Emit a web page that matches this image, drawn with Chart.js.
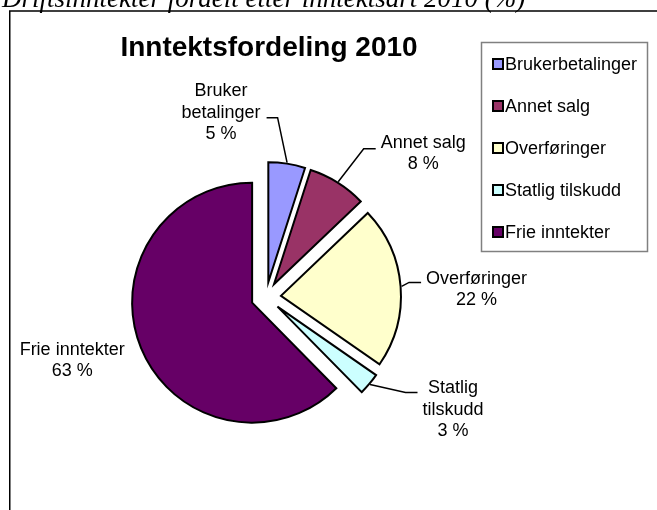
<!DOCTYPE html>
<html lang="no">
<head>
    <meta charset="UTF-8">
    <title>Inntektsfordeling 2010</title>
    <script src="https://cdn.jsdelivr.net/npm/chart.js"></script>
    <style>
        body {
            margin: 0;
            background: #ffffff;
        }

        .wrap {
            position: relative;
            width: 657px;
            height: 510px;
        }
    </style>
</head>
<body>
    <div class="wrap">
        <canvas id="pie" width="657" height="510"></canvas>
    </div>

    <script>
        // data
        const categories = ["Brukerbetalinger", "Annet salg", "Overføringer", "Statlig tilskudd", "Frie inntekter"];
        const shares = [5, 8, 22, 3, 63];
        const labelLines = [["Bruker", "betalinger"], ["Annet salg"], ["Overføringer"], ["Statlig", "tilskudd"], ["Frie inntekter"]];
        const sliceColors = ["#9999FF", "#993366", "#FFFFCC", "#CCFFFF", "#660066"];

        const caption = "Driftsinntekter fordelt etter inntektsart 2010 (%)";
        const chartTitle = "Inntektsfordeling 2010";

        const sansFont = "'Liberation Sans', Arial, sans-serif";
        const serifFont = "'Liberation Serif', 'Times New Roman', serif";

        // where each data label sits relative to the slice edge, and where its leader meets it
        const labelPlacement = [
            { dx: -66, dy: -50, leadY: 5, side: "left" },
            { dx: 85, dy: -28, leadY: -5, side: "right" },
            { dx: 75, dy: 3, leadY: -7, side: "right" },
            { dx: 83, dy: 25, leadY: -17, side: "right" },
            { dx: -68, dy: 12, leadY: null, side: "left" }
        ];

        // draw every slice pushed out along its middle angle
        const explodePlugin = {
            id: "explode",
            beforeDatasetDraw(chart, args, opts) {
                const ctx = chart.ctx;
                args.meta.data.forEach((arc) => {
                    const mid = (arc.startAngle + arc.endAngle) / 2;
                    ctx.save();
                    ctx.translate(Math.cos(mid) * opts.distance, Math.sin(mid) * opts.distance);
                    arc.draw(ctx);
                    ctx.restore();
                });
                return false;
            }
        };

        // frame, caption, title, legend box and the data labels
        const decorPlugin = {
            id: "decor",
            afterDraw(chart, args, opts) {
                const ctx = chart.ctx;
                const dist = chart.options.plugins.explode.distance;
                const meta = chart.getDatasetMeta(0);
                const ds = chart.data.datasets[0];

                ctx.save();

                // outer frame (only top and left show)
                ctx.strokeStyle = "#000";
                ctx.lineWidth = 1.5;
                ctx.beginPath();
                ctx.moveTo(9.75, 510);
                ctx.lineTo(9.75, 11);
                ctx.lineTo(657, 11);
                ctx.stroke();

                // caption above the frame
                ctx.fillStyle = "#000";
                ctx.font = "italic 27px " + serifFont;
                ctx.textAlign = "left";
                ctx.textBaseline = "alphabetic";
                ctx.fillText(caption, 2, 7);

                // chart title
                ctx.font = "bold 28px " + sansFont;
                ctx.textAlign = "center";
                ctx.fillText(chartTitle, 269, 56);

                // legend
                ctx.strokeStyle = "#808080";
                ctx.lineWidth = 1.5;
                ctx.strokeRect(481.5, 42.5, 166, 209);
                ctx.font = "18px " + sansFont;
                ctx.textAlign = "left";
                ctx.textBaseline = "middle";
                chart.data.labels.forEach((name, i) => {
                    const y = 64 + i * 42;
                    ctx.fillStyle = ds.backgroundColor[i];
                    ctx.fillRect(493, y - 5, 10, 10);
                    ctx.strokeStyle = "#000";
                    ctx.lineWidth = 2;
                    ctx.strokeRect(493, y - 5, 10, 10);
                    ctx.fillStyle = "#000";
                    ctx.fillText(name, 505, y + 1);
                });

                // data labels with leader lines
                const lineH = 21.5;
                meta.data.forEach((arc, i) => {
                    const mid = (arc.startAngle + arc.endAngle) / 2;
                    const r = arc.outerRadius + 1;
                    const ax = arc.x + Math.cos(mid) * (dist + r);
                    const ay = arc.y + Math.sin(mid) * (dist + r);
                    const p = labelPlacement[i];
                    const lines = labelLines[i].concat([ds.data[i] + " %"]);
                    const cx = ax + p.dx;
                    const cy = ay + p.dy;
                    const top = cy - (lines.length - 1) * lineH / 2;

                    ctx.fillStyle = "#000";
                    ctx.textAlign = "center";
                    ctx.textBaseline = "middle";
                    let widest = 0;
                    lines.forEach((t, k) => {
                        ctx.fillText(t, cx, top + k * lineH);
                        widest = Math.max(widest, ctx.measureText(t).width);
                    });

                    if (p.leadY !== null) {
                        const ly = cy + p.leadY;
                        const sx = p.side === "left" ? cx + widest / 2 + 6 : cx - widest / 2 - 5;
                        const ex = p.side === "left" ? sx + 11 : sx - 12;
                        ctx.strokeStyle = "#000";
                        ctx.lineWidth = 1.5;
                        ctx.beginPath();
                        ctx.moveTo(sx, ly);
                        ctx.lineTo(ex, ly);
                        ctx.lineTo(ax, ay);
                        ctx.stroke();
                    }
                });

                ctx.restore();
            }
        };

        new Chart(document.getElementById("pie"), {
            type: "pie",
            data: {
                labels: categories,
                datasets: [{
                    data: shares,
                    backgroundColor: sliceColors,
                    borderColor: "#000000",
                    borderWidth: 2,
                    borderJoinStyle: "miter"
                }]
            },
            options: {
                responsive: false,
                animation: false,
                radius: 120,
                layout: {
                    padding: { left: 116, right: 241, top: 147, bottom: 63 }
                },
                plugins: {
                    legend: { display: false },
                    title: { display: false },
                    tooltip: { enabled: false },
                    explode: { distance: 15 }
                }
            },
            plugins: [explodePlugin, decorPlugin]
        });
    </script>
</body>
</html>
